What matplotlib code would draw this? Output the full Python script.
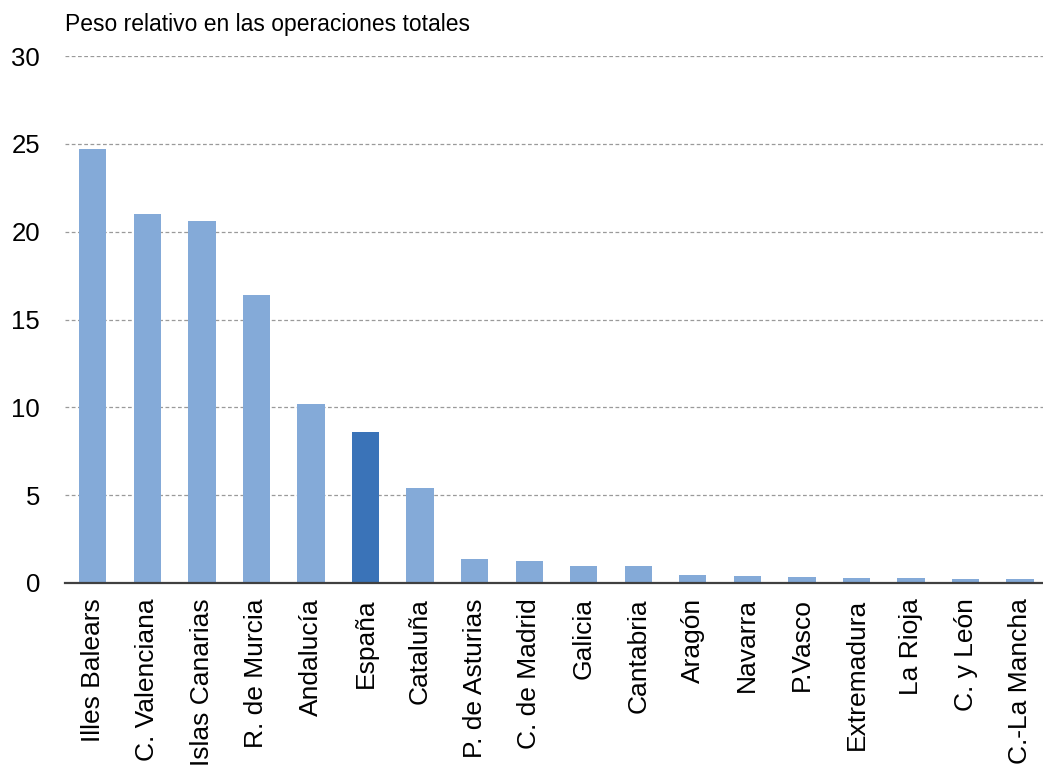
import matplotlib.pyplot as plt
import numpy as np

plt.rcParams['font.family'] = ['Liberation Sans', 'DejaVu Sans']

regiones = ['Illes Balears', 'C. Valenciana', 'Islas Canarias', 'R. de Murcia',
            'Andalucía', 'España', 'Cataluña', 'P. de Asturias', 'C. de Madrid',
            'Galicia', 'Cantabria', 'Aragón', 'Navarra', 'P.Vasco', 'Extremadura',
            'La Rioja', 'C. y León', 'C.-La Mancha']
peso = [24.7, 21.0, 20.6, 16.4, 10.2, 8.6, 5.4, 1.37, 1.27, 0.98, 0.97,
        0.43, 0.40, 0.34, 0.28, 0.26, 0.25, 0.23]
destacada = 'España'

azul_claro = '#84AAD8'
azul_oscuro = '#3A73B8'

fig = plt.figure(figsize=(10.43, 7.71), dpi=100)
ax = fig.add_axes([65 / 1043, 1 - 583 / 771, 978 / 1043, (583 - 56) / 771])

x = np.arange(len(regiones))
colores = [azul_oscuro if r == destacada else azul_claro for r in regiones]
ax.bar(x, peso, width=0.5, color=colores, zorder=3)

ax.set_xlim(-0.51, len(regiones) - 0.58)
ax.set_ylim(0, 30)
ax.set_yticks(np.arange(0, 31, 5))
ax.yaxis.grid(True, color='#9a9a9a', linestyle=(0, (3, 2)), linewidth=0.9, zorder=0)

ax.set_xticks(x)
ax.set_xticklabels(regiones, rotation=90, fontsize=19)
ax.tick_params(axis='x', length=0, pad=11)
ax.tick_params(axis='y', length=0, pad=18, labelsize=18.5)

for s in ['top', 'right', 'left']:
    ax.spines[s].set_visible(False)
ax.spines['bottom'].set_color('#404040')
ax.spines['bottom'].set_linewidth(1.6)
ax.spines['bottom'].set_zorder(4)

fig.text(65 / 1043, 1 - 25 / 771, 'Peso relativo en las operaciones totales',
         fontsize=16.5, va='center', ha='left')

fig.savefig('out.png', dpi=100)
